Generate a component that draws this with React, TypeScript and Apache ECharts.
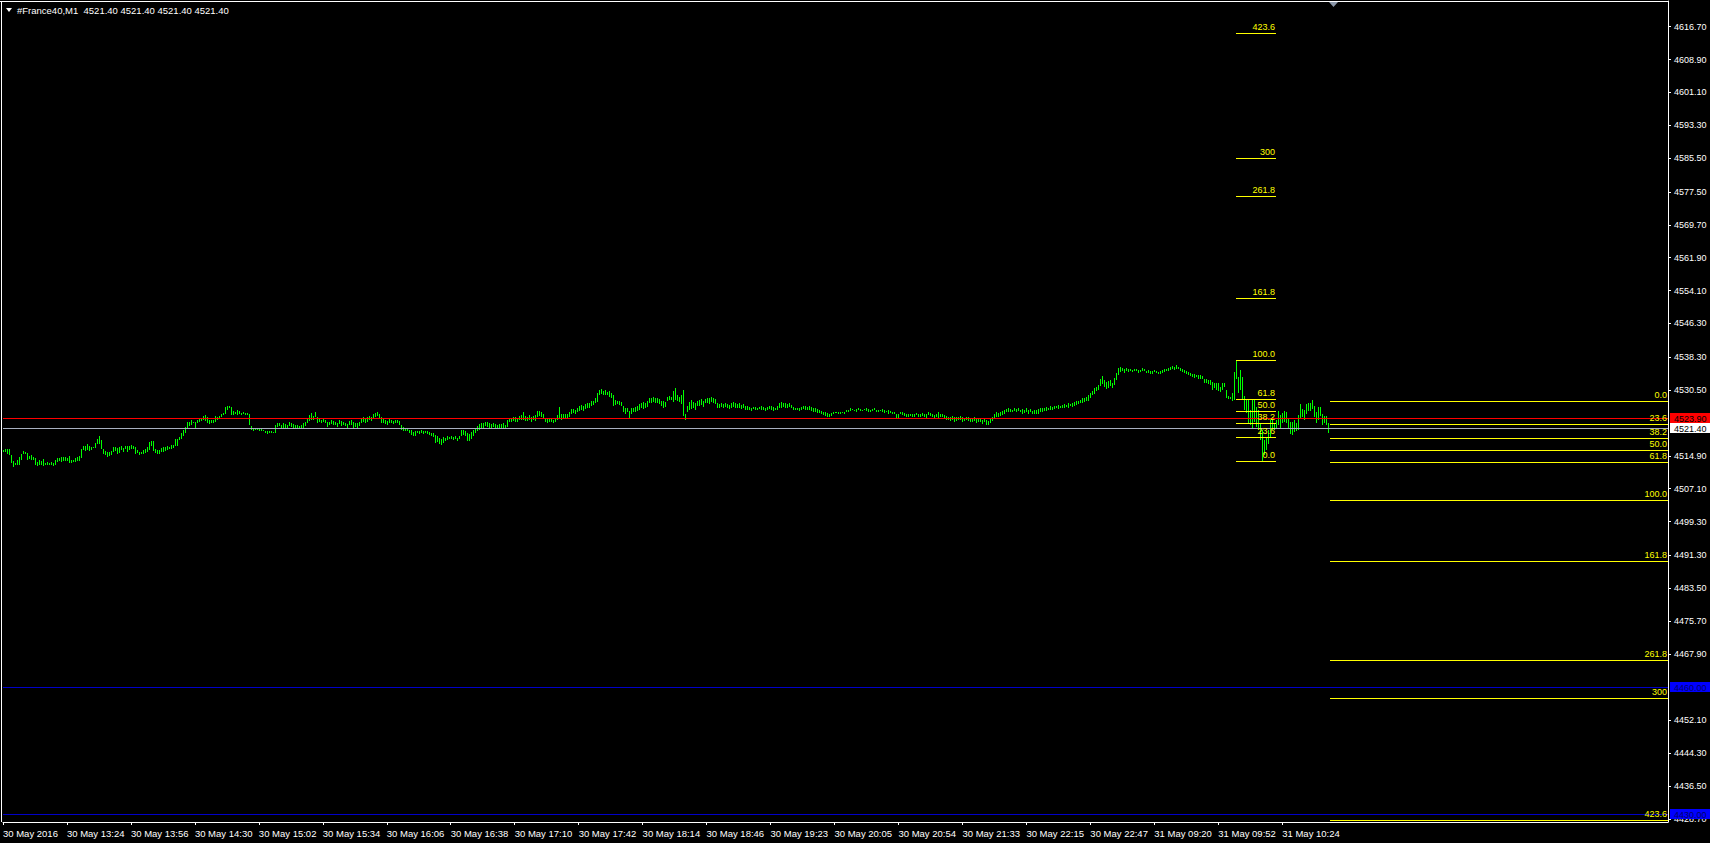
import React, { useEffect, useRef } from "react";
import * as echarts from "echarts";

const chartTitle = "#France40,M1  4521.40 4521.40 4521.40 4521.40";

const xTickLabels = [
  "30 May 2016", "30 May 13:24", "30 May 13:56", "30 May 14:30", "30 May 15:02",
  "30 May 15:34", "30 May 16:06", "30 May 16:38", "30 May 17:10", "30 May 17:42",
  "30 May 18:14", "30 May 18:46", "30 May 19:23", "30 May 20:05", "30 May 20:54",
  "30 May 21:33", "30 May 22:15", "30 May 22:47", "31 May 09:20", "31 May 09:52",
  "31 May 10:24",
];
const barsPerTick = 32;
const slotCount = 834;

const yTickValues = [
  4616.7, 4608.9, 4601.1, 4593.3, 4585.5, 4577.5, 4569.7, 4561.9, 4554.1, 4546.3,
  4538.3, 4530.5, 4514.9, 4507.1, 4499.3, 4491.3, 4483.5, 4475.7, 4467.9, 4452.1,
  4444.3, 4436.5, 4428.7,
];
const yMin = 4428.0;
const yMax = 4622.8;

const barHighs = [
  4516.2, 4516.4, 4516.6, 4516.5, 4515.0, 4513.6, 4513.2, 4513.9, 4514.6, 4515.4,
  4516.1, 4515.9, 4515.6, 4514.8, 4515.0, 4514.6, 4514.3, 4513.4, 4514.0, 4513.7,
  4514.2, 4513.2, 4513.4, 4513.2, 4513.4, 4513.2, 4514.0, 4514.3, 4514.3, 4514.5,
  4514.5, 4514.5, 4514.3, 4514.8, 4514.0, 4514.0, 4514.3, 4514.6, 4514.8, 4516.5,
  4517.3, 4517.3, 4517.8, 4517.2, 4516.9, 4517.0, 4518.0, 4518.8, 4519.7, 4518.6,
  4516.4, 4516.0, 4515.8, 4515.8, 4516.1, 4517.0, 4517.0, 4516.7, 4517.0, 4517.2,
  4516.7, 4517.2, 4517.3, 4517.2, 4517.5, 4517.3, 4517.0, 4516.2, 4515.9, 4515.9,
  4516.2, 4516.4, 4516.9, 4518.1, 4518.3, 4518.3, 4516.4, 4516.2, 4516.2, 4516.7,
  4516.9, 4516.9, 4517.2, 4517.0, 4517.5, 4517.5, 4518.8, 4518.8, 4519.4, 4520.2,
  4521.0, 4521.8, 4523.0, 4523.0, 4523.3, 4523.0, 4523.0, 4523.3, 4523.8, 4523.8,
  4524.3, 4524.5, 4524.0, 4523.5, 4523.3, 4523.5, 4524.3, 4524.1, 4524.3, 4524.8,
  4525.1, 4526.4, 4526.8, 4526.7, 4526.4, 4525.6, 4525.4, 4525.7, 4525.6, 4525.1,
  4525.2, 4525.1, 4525.1, 4524.8, 4521.9, 4521.6, 4521.4, 4521.6, 4521.4, 4521.4,
  4521.1, 4520.8, 4520.7, 4520.7, 4520.7, 4520.5, 4522.2, 4522.6, 4522.7, 4522.2,
  4522.6, 4522.4, 4522.2, 4523.0, 4522.7, 4522.4, 4522.2, 4522.1, 4521.9, 4522.2,
  4522.6, 4522.9, 4523.8, 4524.5, 4525.1, 4524.3, 4525.2, 4524.1, 4523.7, 4523.5,
  4523.8, 4523.5, 4522.9, 4523.0, 4523.3, 4523.2, 4522.9, 4522.7, 4523.3, 4523.2,
  4522.9, 4522.6, 4522.4, 4523.2, 4523.5, 4523.0, 4522.7, 4522.6, 4523.0, 4523.8,
  4524.0, 4523.7, 4524.1, 4524.3, 4524.0, 4524.8, 4525.1, 4525.2, 4524.9, 4524.1,
  4523.7, 4523.5, 4523.2, 4523.7, 4523.3, 4523.2, 4523.5, 4523.3, 4523.2, 4522.2,
  4521.8, 4521.4, 4521.3, 4521.1, 4521.0, 4520.5, 4520.7, 4520.8, 4520.7, 4521.0,
  4520.7, 4520.8, 4520.7, 4520.5, 4520.3, 4520.2, 4519.9, 4519.6, 4519.1, 4518.8,
  4519.4, 4519.2, 4519.6, 4519.4, 4519.7, 4519.4, 4519.6, 4519.2, 4519.7, 4521.1,
  4521.0, 4520.7, 4520.3, 4520.0, 4520.5, 4521.0, 4521.3, 4521.9, 4522.4, 4522.7,
  4522.6, 4523.0, 4522.9, 4522.7, 4522.4, 4522.6, 4522.4, 4522.2, 4522.4, 4522.5,
  4522.7, 4522.3, 4523.3, 4523.9, 4523.8, 4524.2, 4524.0, 4523.8, 4524.3, 4524.5,
  4525.2, 4524.3, 4524.2, 4524.5, 4524.0, 4524.3, 4524.5, 4525.5, 4525.6, 4525.2,
  4524.8, 4523.8, 4523.7, 4523.8, 4523.7, 4523.5, 4523.8, 4524.5, 4526.5, 4524.8,
  4524.7, 4524.8, 4524.7, 4525.2, 4526.0, 4526.0, 4525.8, 4526.2, 4526.8, 4527.0,
  4526.7, 4527.2, 4527.3, 4527.5, 4527.8, 4528.0, 4528.5, 4529.7, 4530.5, 4530.7,
  4530.3, 4530.5, 4530.0, 4530.2, 4529.7, 4529.3, 4528.2, 4528.0, 4527.8, 4527.7,
  4526.7, 4526.2, 4526.3, 4525.6, 4526.2, 4526.3, 4526.5, 4526.8, 4527.2, 4527.5,
  4527.7, 4527.5, 4527.8, 4528.5, 4528.7, 4528.8, 4528.7, 4528.5, 4528.3, 4528.0,
  4527.8, 4527.7, 4528.8, 4529.0, 4528.9, 4530.2, 4531.0, 4529.2, 4528.9, 4529.3,
  4530.6, 4524.7, 4526.8, 4527.7, 4528.1, 4527.7, 4527.5, 4527.8, 4528.2, 4528.3,
  4528.0, 4528.3, 4528.7, 4528.5, 4528.8, 4528.5, 4528.3, 4527.3, 4527.2, 4527.3,
  4527.2, 4527.5, 4527.2, 4527.0, 4527.3, 4527.7, 4527.5, 4527.2, 4527.3, 4527.0,
  4527.2, 4526.8, 4526.7, 4526.5, 4526.3, 4526.5, 4526.5, 4526.3, 4526.5, 4526.7,
  4526.5, 4526.3, 4526.5, 4526.7, 4526.8, 4526.5, 4526.3, 4526.7, 4527.5, 4527.7,
  4527.3, 4527.5, 4527.2, 4527.3, 4527.0, 4526.5, 4526.3, 4526.2, 4526.3, 4526.5,
  4526.8, 4526.7, 4526.5, 4526.7, 4526.5, 4526.3, 4526.2, 4526.0, 4525.8, 4525.5,
  4525.3, 4525.2, 4525.0, 4524.8, 4525.0, 4525.2, 4525.3, 4525.2, 4525.2, 4525.2,
  4525.3, 4525.2, 4525.7, 4525.8, 4526.2, 4526.0, 4525.8, 4526.0, 4526.2, 4526.0,
  4525.8, 4526.0, 4526.2, 4526.0, 4525.8, 4526.0, 4526.2, 4525.8, 4525.7, 4525.8,
  4526.0, 4525.7, 4525.5, 4525.7, 4525.5, 4525.3, 4525.2, 4524.8, 4524.7, 4525.3,
  4525.2, 4525.0, 4524.8, 4524.7, 4524.8, 4524.7, 4524.8, 4525.0, 4524.7, 4524.8,
  4525.0, 4524.8, 4524.7, 4525.2, 4525.0, 4524.8, 4524.5, 4524.7, 4525.2, 4524.8,
  4524.7, 4524.5, 4524.3, 4524.2, 4524.0, 4524.3, 4524.2, 4524.0, 4524.2, 4524.3,
  4524.0, 4523.8, 4524.2, 4524.0, 4523.8, 4523.7, 4524.2, 4523.8, 4523.7, 4523.8,
  4523.5, 4523.7, 4523.3, 4523.2, 4523.7, 4524.2, 4524.8, 4525.2, 4525.0, 4525.3,
  4525.5, 4525.8, 4526.0, 4526.2, 4526.0, 4525.8, 4526.2, 4526.0, 4526.3, 4525.8,
  4526.0, 4525.8, 4526.2, 4525.7, 4526.0, 4525.5, 4525.8, 4525.7, 4526.0, 4526.2,
  4526.3, 4526.2, 4526.5, 4526.3, 4526.7, 4526.5, 4526.8, 4526.7, 4527.0, 4526.8,
  4527.0, 4527.2, 4527.0, 4527.3, 4527.2, 4527.5, 4527.7, 4527.8, 4528.0, 4528.2,
  4528.5, 4528.7, 4528.8, 4529.2, 4529.8, 4530.2, 4531.0, 4531.3, 4531.8, 4533.2,
  4533.8, 4532.8, 4532.4, 4532.6, 4532.8, 4532.2, 4533.4, 4534.6, 4535.8, 4536.0,
  4535.8, 4535.6, 4535.8, 4535.4, 4535.6, 4535.3, 4535.5, 4535.4, 4535.2, 4535.3,
  4535.7, 4535.5, 4535.1, 4535.2, 4534.9, 4535.0, 4535.3, 4535.1, 4534.8, 4535.0,
  4535.2, 4535.4, 4535.5, 4535.8, 4536.0, 4536.1, 4535.9, 4536.4, 4536.0, 4535.7,
  4535.4, 4535.2, 4535.0, 4534.8, 4534.6, 4534.4, 4534.2, 4534.1, 4534.0, 4534.0,
  4533.8, 4533.2, 4533.0, 4532.9, 4532.9, 4532.5, 4532.1, 4532.2, 4532.1, 4531.3,
  4532.1, 4532.2, 4530.5, 4529.1, 4528.9, 4529.7, 4534.8, 4537.6, 4533.6, 4535.2,
  4533.6, 4529.1, 4528.3, 4528.1, 4525.7, 4528.1, 4528.1, 4526.5, 4525.7, 4522.6,
  4521.0, 4518.6, 4519.4, 4521.0, 4523.4, 4524.2, 4522.6, 4523.4, 4525.6, 4524.6,
  4525.0, 4525.6, 4525.3, 4523.8, 4523.0, 4523.0, 4523.4, 4522.7, 4524.6, 4527.2,
  4526.1, 4525.7, 4527.2, 4527.5, 4527.3, 4528.1, 4526.7, 4525.3, 4526.5, 4526.4,
  4524.8, 4524.3, 4524.3, 4522.6,
];
const barLows = [
  4515.8, 4515.8, 4515.4, 4515.0, 4513.2, 4512.2, 4512.6, 4512.7, 4512.7, 4513.9,
  4515.3, 4515.3, 4514.0, 4514.2, 4514.0, 4513.9, 4512.6, 4512.4, 4512.7, 4512.6,
  4512.4, 4512.6, 4512.7, 4512.6, 4512.6, 4512.4, 4512.7, 4513.4, 4513.6, 4513.5,
  4513.7, 4513.7, 4513.7, 4513.2, 4513.2, 4513.4, 4513.5, 4513.7, 4513.7, 4514.3,
  4516.2, 4516.1, 4516.2, 4516.1, 4516.2, 4516.7, 4516.7, 4517.7, 4517.7, 4516.5,
  4515.4, 4515.0, 4514.6, 4514.8, 4515.1, 4515.8, 4516.1, 4515.4, 4515.6, 4516.2,
  4515.9, 4516.4, 4515.8, 4516.2, 4516.4, 4516.4, 4515.4, 4515.6, 4515.1, 4515.3,
  4515.4, 4515.6, 4515.9, 4516.2, 4517.2, 4516.1, 4515.6, 4515.3, 4515.4, 4515.8,
  4515.9, 4516.1, 4516.2, 4516.4, 4516.5, 4516.7, 4517.2, 4517.2, 4518.6, 4518.9,
  4519.6, 4520.2, 4521.4, 4521.9, 4522.2, 4522.6, 4521.4, 4522.7, 4523.0, 4523.2,
  4523.5, 4523.2, 4522.7, 4522.4, 4522.7, 4522.7, 4523.0, 4523.5, 4523.7, 4524.1,
  4524.5, 4524.8, 4525.7, 4526.2, 4524.6, 4524.5, 4524.8, 4524.6, 4524.8, 4524.6,
  4524.8, 4524.5, 4524.6, 4522.1, 4521.1, 4520.8, 4521.0, 4521.0, 4520.7, 4520.8,
  4520.7, 4520.3, 4520.0, 4520.2, 4520.2, 4520.2, 4520.2, 4521.8, 4521.9, 4521.4,
  4521.6, 4521.4, 4521.6, 4521.9, 4521.8, 4521.6, 4521.6, 4521.4, 4521.3, 4521.4,
  4521.6, 4521.9, 4522.7, 4523.2, 4523.5, 4523.3, 4524.1, 4522.7, 4523.0, 4522.7,
  4522.9, 4522.6, 4521.8, 4522.2, 4522.4, 4522.2, 4522.1, 4521.8, 4522.4, 4521.9,
  4522.2, 4521.9, 4521.4, 4522.1, 4522.2, 4521.6, 4521.8, 4521.4, 4521.9, 4522.7,
  4523.0, 4522.6, 4522.9, 4523.5, 4523.2, 4523.8, 4524.1, 4524.3, 4523.8, 4522.7,
  4522.6, 4522.4, 4522.1, 4522.7, 4522.6, 4522.4, 4522.7, 4522.6, 4522.2, 4521.1,
  4520.7, 4520.7, 4520.7, 4520.3, 4519.9, 4519.6, 4519.7, 4520.2, 4520.0, 4520.3,
  4520.0, 4520.2, 4520.0, 4519.9, 4519.7, 4519.4, 4518.0, 4518.1, 4517.8, 4517.5,
  4518.0, 4518.3, 4518.6, 4518.8, 4518.9, 4518.6, 4518.8, 4518.4, 4518.9, 4519.6,
  4519.9, 4519.6, 4518.4, 4518.3, 4518.9, 4519.7, 4520.3, 4520.7, 4521.1, 4521.4,
  4521.6, 4521.9, 4521.8, 4521.6, 4521.6, 4521.8, 4521.4, 4521.4, 4521.6, 4521.6,
  4521.4, 4521.6, 4521.8, 4522.8, 4523.0, 4523.2, 4522.8, 4523.0, 4523.3, 4523.5,
  4523.5, 4523.2, 4523.1, 4523.3, 4523.0, 4523.3, 4523.2, 4524.2, 4524.3, 4524.2,
  4523.7, 4522.8, 4522.7, 4523.0, 4522.8, 4522.7, 4523.0, 4523.5, 4523.7, 4523.5,
  4523.7, 4523.8, 4523.7, 4524.2, 4524.8, 4525.0, 4524.7, 4525.2, 4525.5, 4525.7,
  4525.5, 4526.0, 4526.2, 4526.3, 4526.7, 4527.0, 4527.3, 4527.7, 4529.2, 4529.5,
  4529.3, 4529.2, 4529.2, 4528.8, 4528.5, 4526.8, 4527.0, 4527.2, 4527.0, 4526.8,
  4525.3, 4524.8, 4525.2, 4523.7, 4524.8, 4525.2, 4525.3, 4525.5, 4525.8, 4526.2,
  4526.0, 4526.3, 4526.5, 4527.3, 4527.5, 4527.7, 4527.5, 4527.3, 4527.2, 4526.7,
  4526.3, 4526.5, 4528.0, 4528.2, 4528.1, 4527.7, 4528.1, 4527.8, 4527.7, 4527.2,
  4524.3, 4523.3, 4525.2, 4525.8, 4526.0, 4526.2, 4525.8, 4526.7, 4526.8, 4527.0,
  4526.5, 4527.3, 4527.5, 4527.2, 4527.7, 4527.5, 4527.2, 4526.2, 4526.3, 4526.5,
  4526.2, 4526.5, 4526.3, 4526.0, 4526.3, 4526.5, 4526.2, 4526.3, 4526.2, 4526.0,
  4526.2, 4525.8, 4525.7, 4525.8, 4525.5, 4526.0, 4525.7, 4525.8, 4526.0, 4525.8,
  4525.7, 4525.5, 4525.8, 4526.0, 4525.7, 4525.5, 4525.7, 4525.8, 4526.2, 4526.3,
  4526.5, 4526.3, 4526.2, 4526.5, 4526.2, 4525.7, 4525.8, 4525.7, 4525.5, 4525.8,
  4526.0, 4525.8, 4525.7, 4525.7, 4525.5, 4525.2, 4525.3, 4525.0, 4525.0, 4524.8,
  4524.5, 4524.3, 4524.2, 4524.0, 4524.3, 4524.8, 4525.0, 4525.0, 4524.9, 4524.9,
  4525.0, 4524.8, 4525.2, 4525.3, 4525.5, 4525.7, 4525.5, 4525.3, 4525.7, 4525.5,
  4525.5, 4525.7, 4525.5, 4525.3, 4525.2, 4525.5, 4525.7, 4525.3, 4525.2, 4525.5,
  4525.3, 4525.0, 4525.2, 4524.8, 4525.0, 4524.8, 4524.7, 4523.7, 4523.8, 4524.7,
  4524.5, 4524.3, 4524.2, 4524.0, 4524.3, 4524.2, 4524.2, 4524.5, 4524.0, 4524.2,
  4524.3, 4524.0, 4523.8, 4524.5, 4524.3, 4524.2, 4523.8, 4524.2, 4523.7, 4524.2,
  4524.0, 4523.7, 4523.5, 4523.3, 4523.2, 4523.3, 4523.0, 4523.2, 4523.5, 4523.3,
  4523.0, 4523.2, 4523.3, 4523.2, 4522.8, 4523.0, 4523.2, 4522.7, 4522.8, 4523.0,
  4522.5, 4522.8, 4522.3, 4522.1, 4522.7, 4523.2, 4523.7, 4524.0, 4524.2, 4524.3,
  4524.5, 4524.8, 4525.2, 4525.3, 4525.2, 4525.3, 4525.5, 4525.2, 4525.5, 4525.2,
  4524.8, 4525.0, 4525.3, 4524.8, 4525.2, 4524.7, 4524.8, 4524.8, 4524.7, 4525.2,
  4525.3, 4525.5, 4525.5, 4525.7, 4525.7, 4525.8, 4526.0, 4526.2, 4526.0, 4526.3,
  4526.2, 4526.3, 4526.5, 4526.3, 4526.7, 4526.5, 4526.8, 4527.0, 4527.2, 4527.3,
  4527.5, 4527.7, 4527.8, 4528.0, 4528.7, 4529.2, 4529.5, 4530.2, 4530.5, 4531.5,
  4532.0, 4531.2, 4530.8, 4531.0, 4531.4, 4530.9, 4531.6, 4532.8, 4534.0, 4534.8,
  4535.0, 4534.6, 4535.0, 4534.8, 4535.0, 4534.7, 4534.9, 4535.0, 4534.6, 4534.7,
  4534.9, 4535.0, 4534.5, 4534.6, 4534.3, 4534.4, 4534.7, 4534.5, 4534.2, 4534.4,
  4534.6, 4534.8, 4534.9, 4535.0, 4535.3, 4535.5, 4535.2, 4535.6, 4535.4, 4535.0,
  4534.8, 4534.6, 4534.3, 4534.0, 4533.8, 4533.6, 4533.4, 4533.5, 4533.2, 4533.2,
  4533.0, 4532.2, 4532.1, 4531.9, 4531.7, 4530.5, 4530.9, 4530.6, 4530.3, 4530.1,
  4530.6, 4531.3, 4528.5, 4528.4, 4528.4, 4528.0, 4528.1, 4533.2, 4529.7, 4530.5,
  4528.1, 4525.7, 4525.0, 4522.6, 4522.2, 4521.4, 4523.0, 4521.8, 4521.0, 4518.6,
  4513.6, 4515.0, 4516.2, 4517.8, 4519.4, 4521.0, 4521.0, 4521.6, 4522.1, 4521.6,
  4522.6, 4523.0, 4522.7, 4521.6, 4520.0, 4519.8, 4520.6, 4520.8, 4521.1, 4523.8,
  4524.0, 4523.4, 4524.8, 4525.6, 4525.6, 4525.9, 4524.0, 4522.7, 4523.4, 4524.3,
  4522.2, 4522.6, 4522.2, 4520.2,
];

const priceLevels = [4523.9, 4521.4, 4460.0, 4430.0];
const priceLineColors = ["#ff0000", "#a8b0c0", "#0000c8", "#0000c8"];
const priceBoxColors = ["#ff0000", "#ffffff", "#0000ff", "#0000ff"];
const priceTextColors = ["#000000", "#000000", "#00006a", "#00006a"];

const fibLevels = [0, 23.6, 38.2, 50, 61.8, 100, 161.8, 261.8, 300, 423.6];
const fibLabels = ["0.0", "23.6", "38.2", "50.0", "61.8", "100.0", "161.8", "261.8", "300", "423.6"];
const fibA = { price0: 4513.6, price100: 4537.6, fromBar: 617, toBar: 637 };
const fibB = { price0: 4528.0, price100: 4504.5, fromBar: 664, toBar: 833 };

const FONT_FAMILY = "'Liberation Sans', Arial, sans-serif";

export default function App() {
  const ref = useRef<HTMLDivElement>(null);
  useEffect(() => {
    document.body.style.margin = "0";
    document.body.style.background = "#000";
    if (!ref.current) return;
    const chart = echarts.init(ref.current, undefined, { renderer: "svg" });

    const categories = Array.from({ length: slotCount }, (_, i) => String(i));
    const isTick = (i: number) => i % barsPerTick === 0 && i / barsPerTick < xTickLabels.length;

    const n = Math.min(barHighs.length, barLows.length);
    const barData = barHighs.slice(0, n).map((h, i) => [i, h, barLows[i]]);
    const levelData = priceLevels.map((p, i) => [0, p, i]);
    const fibData: number[][] = [];
    [fibA, fibB].forEach((f) => {
      fibLevels.forEach((lv, k) => {
        fibData.push([f.fromBar, f.price0 + ((f.price100 - f.price0) * lv) / 100, k, f.toBar]);
      });
    });

    const option: any = {
      animation: false,
      backgroundColor: "#000",
      textStyle: { fontFamily: FONT_FAMILY },
      grid: { left: 2, right: 42, top: 1, bottom: 21, containLabel: false },
      xAxis: {
        type: "category",
        data: categories,
        boundaryGap: false,
        axisLine: { show: true, lineStyle: { color: "#fff", width: 1 } },
        axisTick: { show: true, inside: false, length: 3, lineStyle: { color: "#fff" }, interval: (i: number) => isTick(i) },
        axisLabel: {
          show: true,
          interval: (i: number) => isTick(i),
          formatter: (_v: string, i: number) => xTickLabels[i / barsPerTick] ?? "",
          color: "#fff",
          fontSize: 9.5,
          fontFamily: FONT_FAMILY,
          align: "left",
          margin: 6,
        },
        splitLine: { show: false },
      },
      yAxis: {
        type: "value",
        position: "right",
        min: yMin,
        max: yMax,
        axisLine: { show: true, lineStyle: { color: "#fff", width: 1 } },
        axisTick: { show: true, length: 3, lineStyle: { color: "#fff" }, customValues: yTickValues },
        axisLabel: {
          show: true,
          customValues: yTickValues,
          formatter: (v: number) => v.toFixed(2),
          color: "#fff",
          fontSize: 9,
          fontFamily: FONT_FAMILY,
          margin: 6,
        },
        splitLine: { show: false },
      },
      graphic: [
        { type: "line", shape: { x1: 0, y1: 1.5, x2: 1668, y2: 1.5 }, style: { stroke: "#fff", lineWidth: 1 }, silent: true },
        { type: "line", shape: { x1: 1.5, y1: 1, x2: 1.5, y2: 822 }, style: { stroke: "#fff", lineWidth: 1 }, silent: true },
        { type: "polygon", shape: { points: [[6, 8], [12, 8], [9, 12]] }, style: { fill: "#fff" }, silent: true },
        {
          type: "text",
          x: 17,
          y: 5,
          style: { text: chartTitle, fill: "#fff", font: `9.5px ${FONT_FAMILY}` },
          silent: true,
        },
        { type: "polygon", shape: { points: [[1329, 2], [1338, 2], [1333.5, 7]] }, style: { fill: "#8a96a8" }, silent: true },
      ],
      series: [
        {
          type: "custom",
          data: barData,
          encode: { x: 0, y: [1, 2] },
          silent: true,
          z: 3,
          renderItem: (_p: any, api: any) => {
            const i = api.value(0);
            const a = api.coord([i, api.value(1)]);
            const b = api.coord([i, api.value(2)]);
            const x = Math.round(a[0]);
            const y1 = Math.round(a[1]);
            const y2 = Math.max(Math.round(b[1]), y1 + 1);
            return { type: "rect", shape: { x, y: y1, width: 1, height: y2 - y1 }, style: { fill: "#00ff00" } };
          },
        },
        {
          type: "custom",
          data: levelData,
          encode: { x: 0, y: 1 },
          silent: true,
          z: 4,
          renderItem: (params: any, api: any) => {
            const k = api.value(2);
            const price = api.value(1);
            const y = Math.round(api.coord([0, price])[1]) + 0.5;
            const left = params.coordSys.x;
            const right = left + params.coordSys.width;
            return {
              type: "group",
              children: [
                { type: "line", shape: { x1: left, y1: y, x2: right, y2: y }, style: { stroke: priceLineColors[k], lineWidth: 1 } },
                { type: "rect", shape: { x: right + 2, y: y - 5.5, width: 42, height: 10 }, style: { fill: priceBoxColors[k] } },
                {
                  type: "text",
                  style: {
                    text: price.toFixed(2),
                    x: right + 6,
                    y: y,
                    verticalAlign: "middle",
                    fill: priceTextColors[k],
                    font: `9px ${FONT_FAMILY}`,
                  },
                },
              ],
            };
          },
        },
        {
          type: "custom",
          data: fibData,
          encode: { x: 0, y: 1 },
          silent: true,
          z: 5,
          renderItem: (_p: any, api: any) => {
            const from = api.value(0);
            const price = api.value(1);
            const k = api.value(2);
            const to = api.value(3);
            const a = api.coord([from, price]);
            const b = api.coord([to, price]);
            const y = Math.round(a[1]) + 0.5;
            return {
              type: "group",
              children: [
                { type: "line", shape: { x1: Math.round(a[0]), y1: y, x2: Math.round(b[0]), y2: y }, style: { stroke: "#ffff00", lineWidth: 1 } },
                {
                  type: "text",
                  style: {
                    text: fibLabels[k],
                    x: Math.round(b[0]) - 1,
                    y: y - 2,
                    align: "right",
                    verticalAlign: "bottom",
                    fill: "#ffff00",
                    font: `9px ${FONT_FAMILY}`,
                  },
                },
              ],
            };
          },
        },
      ],
    };
    chart.setOption(option);
    return () => chart.dispose();
  }, []);
  return <div ref={ref} style={{ width: 1710, height: 843 }} />;
}
